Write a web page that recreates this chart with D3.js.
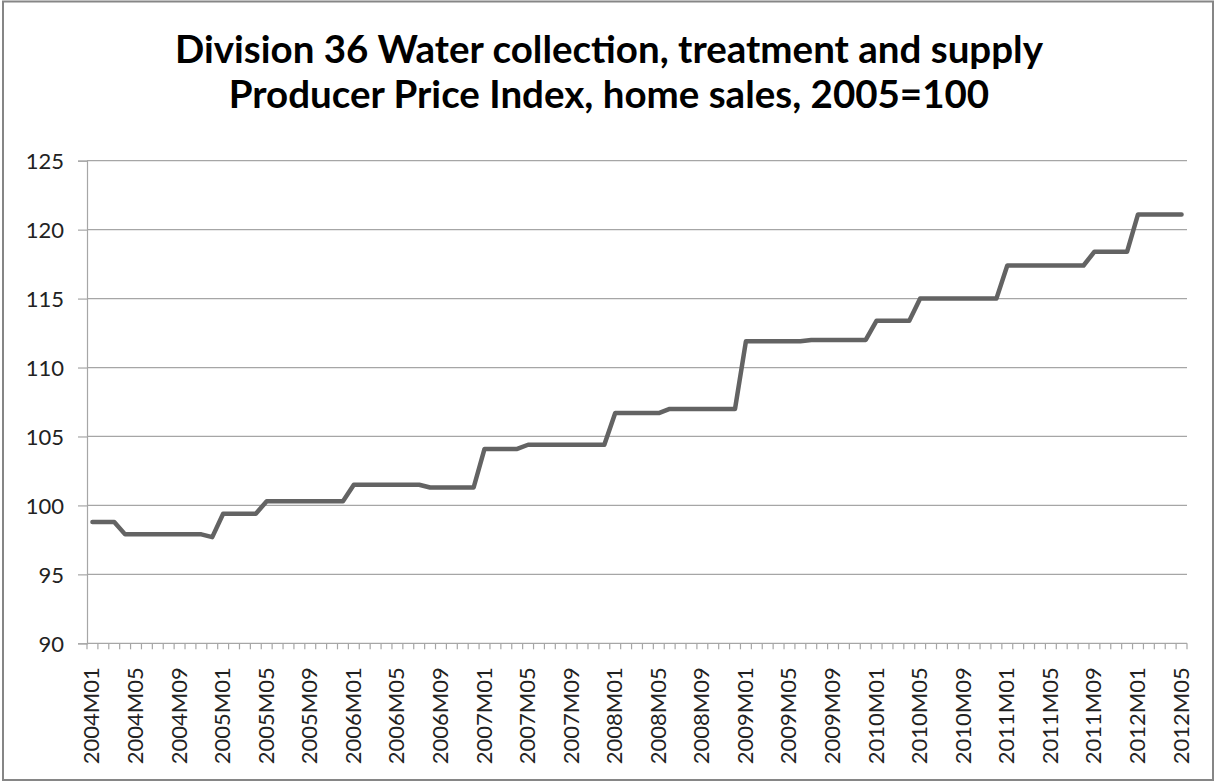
<!DOCTYPE html>
<html>
<head>
<meta charset="utf-8">
<script src="https://cdn.jsdelivr.net/npm/d3@7"></script>
<style>
  html, body { margin: 0; padding: 0; background: #fff; }
  svg { display: block; font-family: Lato, "Open Sans", sans-serif; }
</style>
</head>
<body>
<svg id="chart" width="1215" height="782"></svg>
<script>
// ---- data ----
const titleLines = [
  "Division 36 Water collection, treatment and supply",
  "Producer Price Index, home sales, 2005=100"
];
const startYear = 2004;
const monthCount = 101; // 2004M01 .. 2012M05
const categories = [];
for (let i = 0; i < monthCount; i++) {
  const y = startYear + Math.floor(i / 12);
  const m = (i % 12) + 1;
  categories.push(y + "M" + (m < 10 ? "0" + m : m));
}
const values = [
  98.8, 98.8, 98.8, 97.9, 97.9, 97.9, 97.9, 97.9, 97.9, 97.9, 97.9, 97.7,
  99.4, 99.4, 99.4, 99.4, 100.3, 100.3, 100.3, 100.3, 100.3, 100.3, 100.3, 100.3,
  101.5, 101.5, 101.5, 101.5, 101.5, 101.5, 101.5, 101.3, 101.3, 101.3, 101.3, 101.3,
  104.1, 104.1, 104.1, 104.1, 104.4, 104.4, 104.4, 104.4, 104.4, 104.4, 104.4, 104.4,
  106.7, 106.7, 106.7, 106.7, 106.7, 107.0, 107.0, 107.0, 107.0, 107.0, 107.0, 107.0,
  111.9, 111.9, 111.9, 111.9, 111.9, 111.9, 112.0, 112.0, 112.0, 112.0, 112.0, 112.0,
  113.4, 113.4, 113.4, 113.4, 115.0, 115.0, 115.0, 115.0, 115.0, 115.0, 115.0, 115.0,
  117.4, 117.4, 117.4, 117.4, 117.4, 117.4, 117.4, 117.4, 118.4, 118.4, 118.4, 118.4,
  121.1, 121.1, 121.1, 121.1, 121.1
];
const yTicks = [90, 95, 100, 105, 110, 115, 120, 125];
const xLabelEvery = 4;

// ---- layout ----
const svg = d3.select("#chart");
const W = 1215, H = 782;
const plot = { left: 87, right: 1187, top: 160.7, bottom: 643.3 };

// outer border
svg.append("rect")
  .attr("x", 3).attr("y", 1.5).attr("width", W - 5).attr("height", H - 3.5)
  .attr("fill", "#fff").attr("stroke", "#868686").attr("stroke-width", 2);

// title
const title = svg.append("text")
  .attr("text-anchor", "middle")
  .attr("font-weight", "bold")
  .attr("font-size", 38.5)
  .attr("fill", "#000");
title.selectAll("tspan").data(titleLines).join("tspan")
  .attr("x", 609)
  .attr("y", (d, i) => 63 + i * 45)
  .text(d => d);

const x = d3.scaleBand().domain(categories).range([plot.left, plot.right]).paddingInner(0).paddingOuter(0);
const y = d3.scaleLinear().domain([90, 125]).range([plot.bottom, plot.top]);

// gridlines
svg.append("g").selectAll("line").data(yTicks.filter(d => d !== 90)).join("line")
  .attr("x1", plot.left).attr("x2", plot.right)
  .attr("y1", d => y(d)).attr("y2", d => y(d))
  .attr("stroke", "#a6a6a6").attr("stroke-width", 1.2);

// y axis
const yAxis = svg.append("g")
  .attr("transform", `translate(${plot.left},0)`)
  .call(d3.axisLeft(y).tickValues(yTicks).tickSize(9).tickPadding(14).tickFormat(d3.format("d")));
yAxis.select(".domain").attr("stroke", "#a6a6a6").attr("stroke-width", 1.2);
yAxis.selectAll(".tick line").attr("stroke", "#a6a6a6").attr("stroke-width", 1.2);
yAxis.selectAll("text").attr("font-size", 22).attr("fill", "#222").attr("font-family", "Lato, sans-serif")
  .attr("dy", "0.35em");

// x axis line
svg.append("line")
  .attr("x1", plot.left).attr("x2", plot.right)
  .attr("y1", plot.bottom).attr("y2", plot.bottom)
  .attr("stroke", "#a6a6a6").attr("stroke-width", 1.2);

// x tick marks at category boundaries
const boundaries = categories.map(c => x(c)).concat([x(categories[categories.length - 1]) + x.bandwidth()]);
svg.append("g").selectAll("line").data(boundaries).join("line")
  .attr("x1", d => d).attr("x2", d => d)
  .attr("y1", plot.bottom).attr("y2", plot.bottom + 6)
  .attr("stroke", "#a6a6a6").attr("stroke-width", 1.2);

// x labels
svg.append("g").selectAll("text")
  .data(categories.filter((c, i) => i % xLabelEvery === 0))
  .join("text")
  .attr("transform", d => `translate(${x(d) + x.bandwidth() / 2 + 7},${plot.bottom + 24}) rotate(-90)`)
  .attr("text-anchor", "end")
  .attr("font-size", 22)
  .attr("fill", "#222")
  .text(d => d);

// data line
const line = d3.line()
  .x((d, i) => x(categories[i]) + x.bandwidth() / 2)
  .y(d => y(d));
svg.append("path")
  .datum(values)
  .attr("d", line)
  .attr("fill", "none")
  .attr("stroke", "#636363")
  .attr("stroke-width", 4.5)
  .attr("stroke-linejoin", "round")
  .attr("stroke-linecap", "round");
</script>
</body>
</html>
